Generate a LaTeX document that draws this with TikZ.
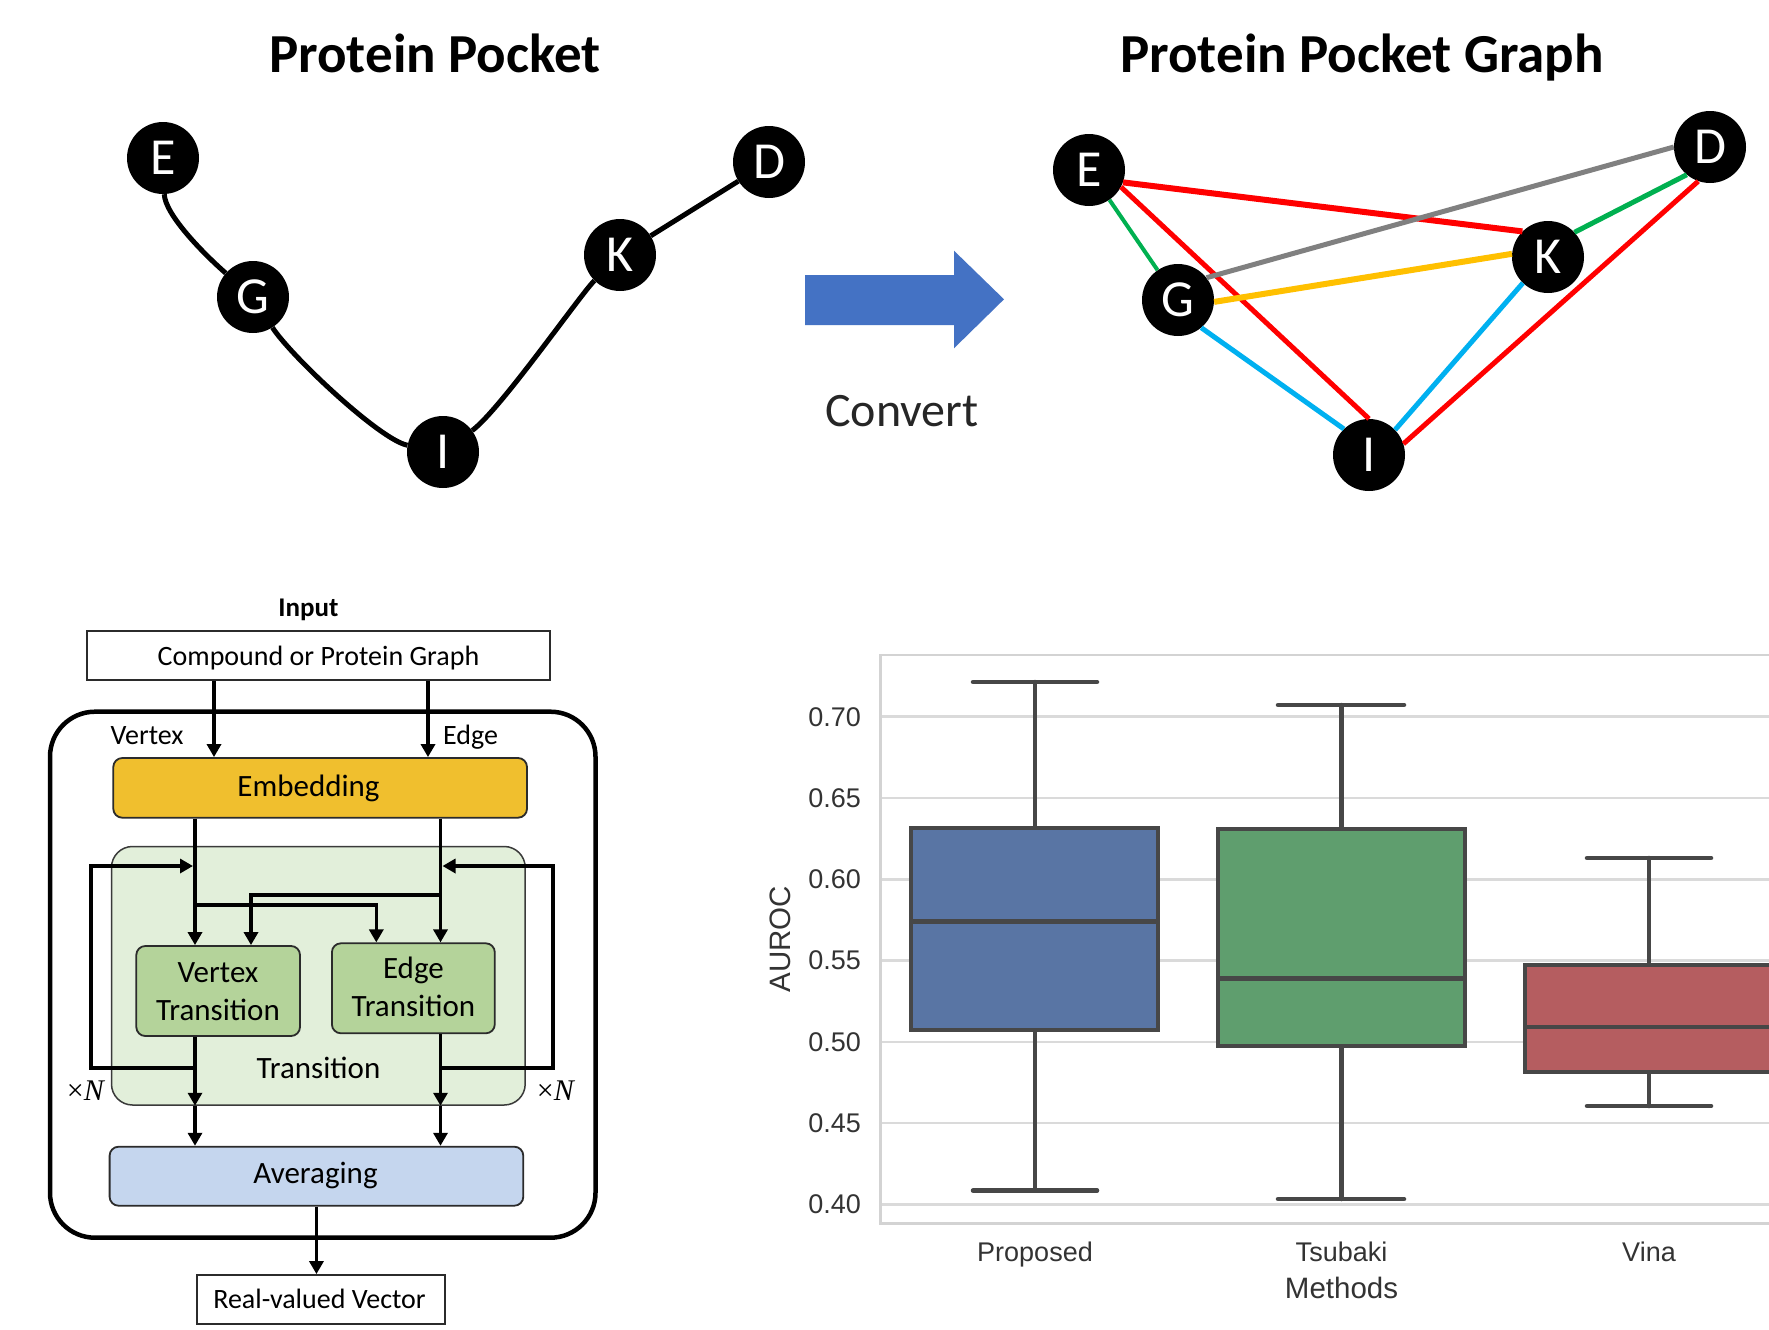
\documentclass[tikz,border=0pt]{standalone}
\usepackage{fontspec}
\setmainfont{Carlito}
\newfontfamily\chartfont{Liberation Sans}
\newfontfamily\serifmath{Liberation Serif}
\usetikzlibrary{arrows.meta,calc}
\definecolor{embfill}{HTML}{F0BF2E}
\definecolor{trfill}{HTML}{E2EFDA}
\definecolor{vtfill}{HTML}{B4D39A}
\definecolor{avfill}{HTML}{C5D6EE}
\definecolor{bline}{HTML}{2B2B2B}
\definecolor{trline}{HTML}{3A3A3A}
\definecolor{arrowblue}{HTML}{4472C4}
\definecolor{egreen}{HTML}{00B050}
\definecolor{egray}{HTML}{808080}
\definecolor{eyellow}{HTML}{FFC000}
\definecolor{ecyan}{HTML}{00B0F0}
\definecolor{gridc}{HTML}{DADADA}
\definecolor{framec}{HTML}{D3D3D3}
\definecolor{bxline}{HTML}{474747}
\definecolor{sbblue}{HTML}{5975A4}
\definecolor{sbgreen}{HTML}{5F9E6E}
\definecolor{sbred}{HTML}{B55D60}
\definecolor{axtext}{HTML}{333333}
\definecolor{convtext}{HTML}{262626}
\begin{document}
\begin{tikzpicture}[x=1pt,y=-1pt,
  pn/.style={circle,fill=black,minimum size=72pt,inner sep=0pt,text=white,font=\fontsize{52}{56}\selectfont},
  ttl/.style={anchor=base,inner sep=0pt,font=\bfseries\fontsize{55}{60}\selectfont},
  gl/.style={line width=5pt},
  lbl/.style={anchor=base,inner sep=0pt,font=\fontsize{28}{34}\selectfont},
  blbl/.style={anchor=base,inner sep=0pt,font=\fontsize{31}{38}\selectfont},
  mlbl/.style={align=center,inner sep=0pt,font=\fontsize{31}{38}\selectfont},
  rbox/.style={draw=bline,line width=1.8pt,inner sep=0pt,rounded corners=9pt},
  sbox/.style={draw=bline,line width=1.8pt,inner sep=0pt},
  arr/.style={line width=3.6pt,-{Triangle[length=13pt,width=14pt]}},
  timesn/.style={anchor=base,inner sep=0pt,font=\serifmath\fontsize{30}{34}\selectfont},
  grd/.style={gridc,line width=2.5pt},
  bxs/.style={draw=bxline,line width=4.5pt},
  wsk/.style={bxline,line width=4.5pt,line cap=round},
  tick/.style={anchor=east,inner sep=0pt,text=axtext,font=\chartfont\fontsize{27}{32}\selectfont},
  xtick/.style={anchor=base,inner sep=0pt,text=axtext,font=\chartfont\fontsize{27}{32}\selectfont},
  axl/.style={inner sep=0pt,text=axtext,font=\chartfont\fontsize{29.5}{34}\selectfont}
]
\useasboundingbox[fill=white] (0,0) rectangle (1769,1330);

% ---------- Left graph ----------
\node[ttl] (t1) at (435,72) {Protein Pocket};
\node[pn] (E1) at (163,158) {E};
\node[pn] (G1) at (253,297) {G};
\node[pn] (I1) at (443,452) {I};
\node[pn] (K1) at (620,255) {K};
\node[pn] (D1) at (769,162) {D};
\draw[gl] (E1) .. controls (165,215) and (205,255) .. (G1);
\draw[gl] (G1) .. controls (290,355) and (380,440) .. (I1);
\draw[gl] (I1) .. controls (500,410) and (580,295) .. (K1);
\draw[gl] (K1) -- (D1);

% ---------- Convert arrow ----------
\fill[arrowblue] (805,275) -- (954,275) -- (954,250.7) -- (1004,299.3) -- (954,348.3) -- (954,325) -- (805,325) -- cycle;
\node[anchor=base,inner sep=0pt,text=convtext,font=\fontsize{48}{52}\selectfont] (cv) at (902,426) {Convert};

% ---------- Right graph ----------
\node[ttl] (t2) at (1362,72) {Protein Pocket Graph};
\node[pn] (E2) at (1089,170) {E};
\node[pn] (G2) at (1178,300) {G};
\node[pn] (K2) at (1548,257) {K};
\node[pn] (D2) at (1710,147) {D};
\node[pn] (I2) at (1369,455) {I};
\draw[egreen,line width=4pt] (E2) -- (G2);
\draw[red,line width=6pt] (E2.-20) -- (K2.135);
\draw[red,line width=5pt] (E2.-28) -- (I2.90);
\draw[egray,line width=5pt] (G2.38) -- (D2.180);
\draw[eyellow,line width=6pt] (G2.-3) -- (K2.175);
\draw[ecyan,line width=5pt] (G2.-50) -- (I2.134);
\draw[egreen,line width=5pt] (K2.43) -- (D2.-130);
\draw[ecyan,line width=5pt] (K2.-134) -- (I2.44);
\draw[red,line width=5pt] (D2.-109) -- (I2.18);

% ---------- Block diagram ----------
\node[anchor=base,inner sep=0pt,font=\bfseries\fontsize{27}{32}\selectfont] (inp) at (308.5,616.7) {Input};
\node[sbox,minimum width=463pt,minimum height=49.3pt] (cpg) at (318.5,655.4) {};
\node[lbl] (cpgt) at (318.5,665) {Compound or Protein Graph};
\node[draw=black,line width=4.5pt,rounded corners=45pt,minimum width=545.5pt,minimum height=526pt,inner sep=0pt] (frame) at (322.75,974.7) {};
\node[rbox,fill=embfill,minimum width=413.7pt,minimum height=59.7pt] (emb) at (320.15,787.85) {};
\node[blbl] (embt) at (308.5,796.7) {Embedding};
\node[lbl] (vlab) at (147,744) {Vertex};
\node[lbl] (elab) at (470.5,744) {Edge};
\node[draw=trline,line width=1.5pt,fill=trfill,rounded corners=21pt,minimum width=413.7pt,minimum height=258.5pt,inner sep=0pt] (tr) at (318.35,975.75) {};
\node[rbox,fill=vtfill,minimum width=163.7pt,minimum height=90pt] (vt) at (218.15,991) {};
\node[rbox,fill=vtfill,minimum width=162.9pt,minimum height=90pt] (et) at (413.35,988.3) {};
\node[mlbl] (vtt) at (218,991.7) {Vertex\\Transition};
\node[mlbl] (ett) at (413.4,986.7) {Edge\\Transition};
\node[blbl] (trt) at (318.5,1078.3) {Transition};
\node[timesn] (n1) at (86,1100) {×\textit{N}};
\node[timesn] (n2) at (556,1100) {×\textit{N}};
\node[rbox,fill=avfill,minimum width=413.7pt,minimum height=59pt] (avg) at (316.45,1176.2) {};
\node[blbl] (avgt) at (315.5,1183.3) {Averaging};
\node[sbox,minimum width=248.1pt,minimum height=49pt] (rv) at (320.75,1299.5) {};
\node[lbl] (rvt) at (319.5,1308.3) {Real-valued Vector};

\coordinate (xvin) at (214,0);
\coordinate (xein) at (428,0);
\coordinate (xv) at (195,0);
\coordinate (xe) at (440.5,0);
\coordinate (xvb) at (251,0);
\coordinate (xeb) at (376.3,0);
\coordinate (vbr) at (195,905);
\coordinate (ebr) at (440.5,895);
\coordinate (lpb) at (195,1068);
\coordinate (lpc) at (91,866);
\coordinate (lpt) at (193,866);
\coordinate (rpb) at (440.5,1068);
\coordinate (rpc) at (553,866);
\coordinate (rpt) at (442.5,866);

\draw[arr] (cpg.south -| xvin) -- (emb.north -| xvin);
\draw[arr] (cpg.south -| xein) -- (emb.north -| xein);
\draw[arr] (emb.south -| xv) -- (vt.north -| xv);
\draw[arr] (emb.south -| xe) -- (et.north -| xe);
\draw[arr] (vbr) -| (et.north -| xeb);
\draw[arr] (ebr) -| (vt.north -| xvb);
\draw[arr] (lpb) -| (lpc) -- (lpt);
\draw[arr] (rpb) -| (rpc) -- (rpt);
\draw[arr] (vt.south -| xv) -- (tr.south -| xv);
\draw[arr] (et.south -| xe) -- (tr.south -| xe);
\draw[arr] (tr.south -| xv) -- (avg.north -| xv);
\draw[arr] (tr.south -| xe) -- (avg.north -| xe);
\draw[arr] (avg.south) -- (rv.north -| avg.south);

% ---------- Box plot ----------
\begin{scope}
\clip (860,600) rectangle (1769,1330);
\foreach \yy in {716.7,798.0,879.3,960.6,1041.9,1123.2,1204.5}
  \draw[grd] (880.7,\yy) -- (1769,\yy);
\draw[framec,line width=2.5pt] (1775,655) -- (880.7,655) -- (880.7,1223.6) -- (1775,1223.6);
% Proposed
\draw[wsk] (1035,828) -- (1035,682);
\draw[wsk] (973,682) -- (1097,682);
\draw[wsk] (1035,1030) -- (1035,1190.5);
\draw[wsk] (973,1190.5) -- (1097,1190.5);
\draw[bxs,fill=sbblue] (911,828) rectangle (1158,1030);
\draw[bxs] (911,921.5) -- (1158,921.5);
% Tsubaki
\draw[wsk] (1341.5,829) -- (1341.5,705);
\draw[wsk] (1278,705) -- (1404,705);
\draw[wsk] (1341.5,1046) -- (1341.5,1199);
\draw[wsk] (1278,1199) -- (1404,1199);
\draw[bxs,fill=sbgreen] (1218,829) rectangle (1465,1046);
\draw[bxs] (1218,978.5) -- (1465,978.5);
% Vina
\draw[wsk] (1649,965) -- (1649,858);
\draw[wsk] (1587,858) -- (1711,858);
\draw[wsk] (1649,1072) -- (1649,1106);
\draw[wsk] (1587,1106) -- (1711,1106);
\draw[bxs,fill=sbred] (1525,965) rectangle (1785,1072);
\draw[bxs] (1525,1027) -- (1785,1027);
\end{scope}
\node[tick] (y70) at (861,716.7) {0.70};
\node[tick] (y65) at (861,798.0) {0.65};
\node[tick] (y60) at (861,879.3) {0.60};
\node[tick] (y55) at (861,960.6) {0.55};
\node[tick] (y50) at (861,1041.9) {0.50};
\node[tick] (y45) at (861,1123.2) {0.45};
\node[tick] (y40) at (861,1204.5) {0.40};
\node[xtick] (xp) at (1035,1261) {Proposed};
\node[xtick] (xt) at (1341.5,1261) {Tsubaki};
\node[xtick] (xvn) at (1649,1261) {Vina};
\node[axl,anchor=base] (xl) at (1341.5,1298.6) {Methods};
\node[axl,rotate=90] (yl) at (780,939) {AUROC};
\end{tikzpicture}
\end{document}
